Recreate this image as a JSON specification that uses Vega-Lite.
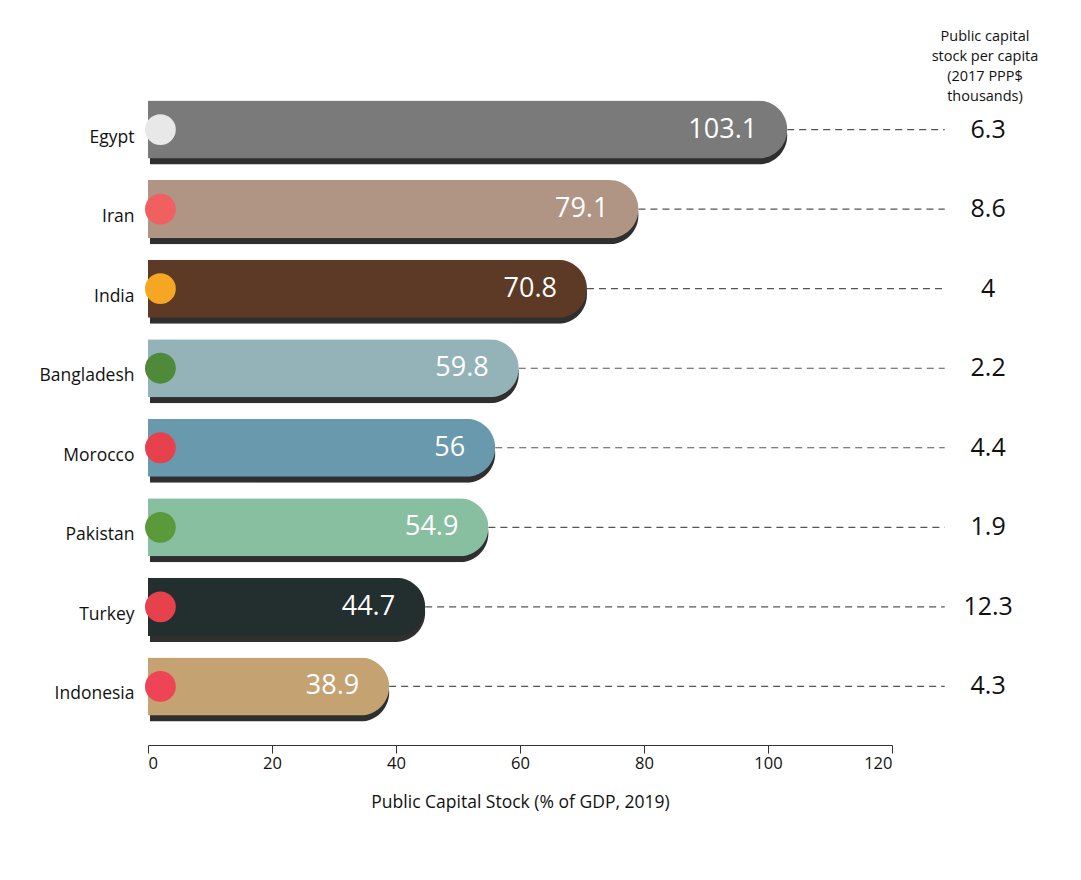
{
"$schema":"https://vega.github.io/schema/vega-lite/v6.json",
"width":744,"height":634,
"background":"white",
"padding":{"top":28,"left":38,"right":5,"bottom":5},
"config":{"font":"Open Sans","view":{"stroke":null}},
"data":{"values":[
{"country":"Egypt","gdp":103.1,"pc":"6.3"},
{"country":"Iran","gdp":79.1,"pc":"8.6"},
{"country":"India","gdp":70.8,"pc":"4"},
{"country":"Bangladesh","gdp":59.8,"pc":"2.2"},
{"country":"Morocco","gdp":56,"pc":"4.4"},
{"country":"Pakistan","gdp":54.9,"pc":"1.9"},
{"country":"Turkey","gdp":44.7,"pc":"12.3"},
{"country":"Indonesia","gdp":38.9,"pc":"4.3"}]},
"encoding":{
"y":{"field":"country","type":"nominal","sort":null,"scale":{"paddingInner":0.27,"paddingOuter":0.12},
"axis":{"title":null,"domain":false,"ticks":false,"labelFontSize":17.5,"labelColor":"#111","labelPadding":14,"labelOffset":8}}
},
"layer":[
{"mark":{"type":"rule","strokeDash":[7,5],"color":"#555","strokeWidth":1.2},
"encoding":{"x":{"field":"gdp","type":"quantitative"},"x2":{"datum":128.5}}},
{"mark":{"type":"bar","cornerRadiusEnd":30,"yOffset":6,"xOffset":2,"color":"#2f2f2f"},
"encoding":{"x":{"field":"gdp","type":"quantitative","scale":{"domain":[0,120]},
"axis":{"values":[0,20,40,60,80,100,120],"grid":false,"domainColor":"#333","tickColor":"#333","tickSize":8,"labelFontSize":16.5,"labelColor":"#111","offset":20,
"title":"Public Capital Stock (% of GDP, 2019)","titleFontSize":17.5,"titleFontWeight":"normal","titleColor":"#111","titlePadding":22}}}},
{"mark":{"type":"bar","cornerRadiusEnd":30},
"encoding":{"x":{"field":"gdp","type":"quantitative"},
"color":{"field":"country","type":"nominal","legend":null,"scale":{"domain":["Egypt","Iran","India","Bangladesh","Morocco","Pakistan","Turkey","Indonesia"],"range":["#7a7a7a","#b09484","#5c3a26","#93b3b8","#6899ad","#88bfa0","#232e2e","#c4a272"]}}}},
{"mark":{"type":"circle","size":950,"opacity":1},
"encoding":{"x":{"datum":2},
"fill":{"field":"country","type":"nominal","legend":null,"scale":{"domain":["Egypt","Iran","India","Bangladesh","Morocco","Pakistan","Turkey","Indonesia"],"range":["#e8e8e8","#f06060","#f5a623","#4e8a3a","#e8414e","#5a9a3a","#e8414e","#ee4455"]}}}},
{"mark":{"type":"text","align":"right","dx":-30,"color":"white","fontSize":27},
"encoding":{"x":{"field":"gdp","type":"quantitative"},"text":{"field":"gdp","type":"quantitative"}}},
{"mark":{"type":"text","align":"center","color":"#111","fontSize":25},
"encoding":{"x":{"datum":135.5},"text":{"field":"pc"}}},
{"data":{"values":[{"country":"Egypt"}]},
"mark":{"type":"text","align":"center","baseline":"top","dy":-100,"fontSize":14.5,"color":"#111","lineHeight":20,
"text":["Public capital","stock per capita","(2017 PPP$","thousands)"]},
"encoding":{"x":{"datum":135}}}
]
}
